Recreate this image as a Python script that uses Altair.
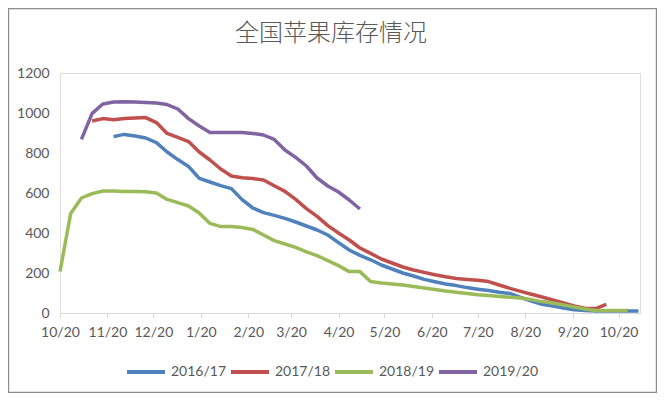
import altair as alt
import pandas as pd

# ---- data ----
series_names = ["2016/17", "2017/18", "2018/19", "2019/20"]
series_colors = ["#4F81BD", "#C0504D", "#9BBB59", "#8064A2"]

# first weekly observation of each season (all on a common 10/20 -> 10/20 axis)
start_dates = ["2018-11-24", "2018-11-10", "2018-10-20", "2018-11-03"]

vals_2016 = [882, 893, 885, 875, 852, 805, 767, 733, 673, 655,
             637, 622, 567, 525, 502, 488, 473, 455, 435, 415,
             390, 352, 315, 288, 266, 240, 220, 200, 185, 168,
             156, 145, 137, 127, 119, 112, 104, 98, 78, 60,
             44, 35, 25, 16, 12, 10, 10, 10, 10, 10]
vals_2017 = [960, 972, 966, 972, 975, 977, 952, 898, 878, 857,
             805, 765, 720, 685, 676, 672, 665, 636, 608, 568,
             522, 483, 437, 400, 365, 325, 298, 270, 250, 230,
             215, 203, 191, 181, 173, 168, 164, 157, 140, 123,
             108, 94, 80, 65, 50, 35, 24, 22, 43]
vals_2018 = [207, 498, 575, 597, 610, 610, 608, 608, 606, 600,
             568, 552, 535, 500, 448, 432, 432, 427, 418, 390,
             362, 345, 328, 306, 287, 262, 237, 207, 207, 157,
             150, 145, 140, 133, 125, 118, 110, 104, 97, 91,
             87, 83, 79, 75, 67, 57, 50, 40, 30, 20,
             12, 12, 12, 12]
vals_2019 = [868, 998, 1045, 1055, 1056, 1055, 1053, 1050, 1042, 1020,
             972, 935, 902, 902, 902, 902, 898, 890, 868, 815,
             778, 735, 675, 635, 605, 565, 520]

tick_dates = ["2018-10-20", "2018-11-20", "2018-12-20", "2019-01-20",
              "2019-02-20", "2019-03-20", "2019-04-20", "2019-05-20",
              "2019-06-20", "2019-07-20", "2019-08-20", "2019-09-20",
              "2019-10-20"]
y_ticks = [0, 200, 400, 600, 800, 1000, 1200]
title_text = "全国苹果库存情况"

# ---- build long table ----
frames = []
for name, start, vals in zip(series_names, start_dates,
                             [vals_2016, vals_2017, vals_2018, vals_2019]):
    dates = pd.date_range(start=start, periods=len(vals), freq="7D")
    frames.append(pd.DataFrame({"date": dates, "value": vals, "season": name}))
df = pd.concat(frames, ignore_index=True)
df["order"] = df["season"].map({n: i for i, n in enumerate(series_names)})

tick_dt = []
for s in tick_dates:
    y, m, d = (int(p) for p in s.split("-"))
    tick_dt.append(alt.DateTime(year=y, month=m, date=d))

W, H = 580, 240
PAD_L, PAD_T, PAD_R, PAD_B = 52, 65, 17, 80
GRAY = "#595959"
FONT = "Lato"

lines = alt.Chart(df).mark_line(strokeWidth=3.5, strokeJoin="round").encode(
    x=alt.X("date:T",
            scale=alt.Scale(domain=[alt.DateTime(year=2018, month=10, date=20),
                                    alt.DateTime(year=2019, month=11, date=3)],
                            nice=False),
            axis=alt.Axis(values=tick_dt, format="%-m/%d", title=None,
                          grid=False, domainColor="#D9D9D9", domainWidth=1,
                          tickColor="#D9D9D9", tickSize=5, labelPadding=7,
                          labelOverlap=False, labelBound=False, labelFlush=False,
                          labelFont=FONT, labelFontSize=14, labelColor=GRAY)),
    y=alt.Y("value:Q",
            scale=alt.Scale(domain=[0, 1200], nice=False),
            axis=alt.Axis(values=y_ticks, format="d", title=None, grid=False,
                          domain=False, ticks=False, labelPadding=11,
                          labelFont=FONT, labelFontSize=14, labelColor=GRAY)),
    color=alt.Color("season:N",
                    scale=alt.Scale(domain=series_names, range=series_colors),
                    legend=alt.Legend(title=None, orient="none", direction="horizontal",
                                      legendX=65, legendY=278,
                                      symbolType="stroke", symbolSize=1444,
                                      symbolStrokeWidth=4, labelOffset=4,
                                      columnPadding=-4,
                                      labelFont=FONT, labelFontSize=14,
                                      labelColor=GRAY)),
    detail="order:O",
    order=alt.Order("date:T"),
)

frame = alt.Chart(pd.DataFrame({"k": [0]})).mark_rect(
    fill=None, stroke="#8C8C8C", strokeWidth=1.2
).encode(
    x=alt.value(-PAD_L + 0.6), x2=alt.value(W + PAD_R - 0.6),
    y=alt.value(-PAD_T + 0.6), y2=alt.value(H + PAD_B - 0.6),
)

chart = alt.layer(lines, frame).properties(
    width=W, height=H,
    title=alt.TitleParams(title_text, font="Noto Sans CJK SC", fontSize=24,
                          fontWeight=300, color=GRAY, anchor="middle",
                          frame="group", dx=-19, offset=-38),
    autosize=alt.AutoSizeParams(type="none"),
    padding={"left": PAD_L, "top": PAD_T, "right": PAD_R, "bottom": PAD_B},
).configure_view(stroke=None).configure(background="white")

chart.save("out.html", embed_options={"renderer": "svg", "actions": False})
